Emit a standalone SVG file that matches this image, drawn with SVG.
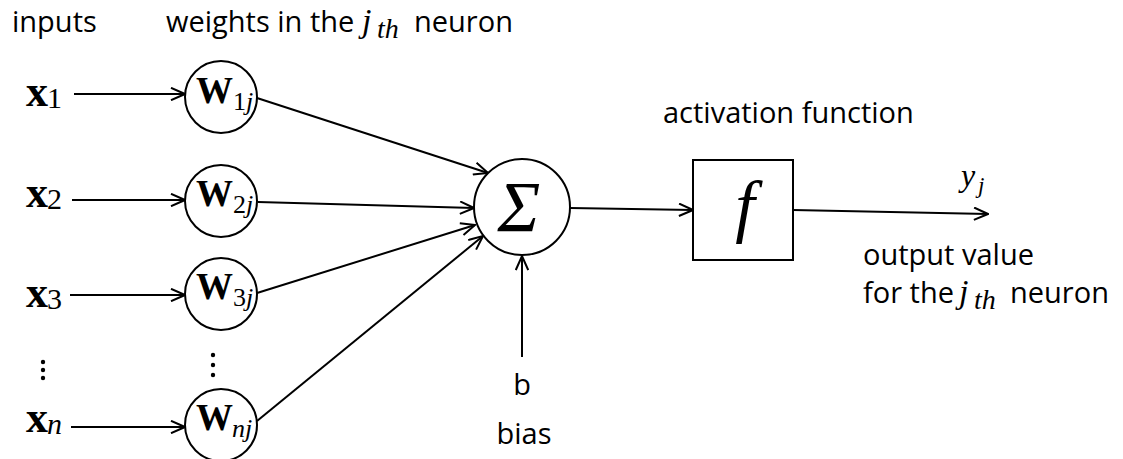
<svg xmlns="http://www.w3.org/2000/svg" width="1123" height="459" viewBox="0 0 1123 459">
  <defs>
    <marker id="arrow" viewBox="0 0 16 14" refX="15" refY="7" markerWidth="16" markerHeight="14" markerUnits="userSpaceOnUse" orient="auto">
      <path d="M1,0.8 L15,7 L1,13.2" fill="none" stroke="#000" stroke-width="2"/>
    </marker>
    <style>
      .txt { font-family: "Open Sans", "Noto Sans", "Liberation Sans", sans-serif; font-size: 29px; fill: #000; }
      .mb { font-family: "Liberation Serif", "DejaVu Serif", serif; font-weight: bold; fill: #000; }
      .mi { font-family: "Liberation Serif", "DejaVu Serif", serif; font-style: italic; fill: #000; }
      .mr { font-family: "Liberation Serif", "DejaVu Serif", serif; fill: #000; }
      .node { fill: #fff; stroke: #000; stroke-width: 2; }
      .edge { fill: none; stroke: #000; stroke-width: 2; marker-end: url(#arrow); }
    </style>
  </defs>
  <rect width="1123" height="459" fill="#fff"/>

  <!-- headings -->
  <text class="txt" x="12" y="32">inputs</text>
  <g id="heading-weights">
    <text class="txt" x="166" y="32">weights in the</text>
    <text class="mi" x="362" y="32" font-size="34">j</text>
    <text class="mi" x="377" y="38" font-size="28">th</text>
    <text class="txt" x="414" y="32">neuron</text>
  </g>

  <!-- connectors -->
  <g id="connectors">
    <line class="edge" x1="74" y1="94" x2="185" y2="94"/>
    <line class="edge" x1="72" y1="200" x2="185" y2="200"/>
    <line class="edge" x1="70" y1="295" x2="185" y2="295"/>
    <line class="edge" x1="71" y1="427" x2="185" y2="427"/>
    <line class="edge" x1="257" y1="98" x2="488" y2="173"/>
    <line class="edge" x1="258" y1="202" x2="474" y2="208"/>
    <line class="edge" x1="257" y1="293" x2="475" y2="225"/>
    <line class="edge" x1="257" y1="421" x2="483" y2="236"/>
    <line class="edge" x1="522" y1="357" x2="522" y2="256"/>
    <line class="edge" x1="570" y1="208" x2="693" y2="210"/>
    <line class="edge" x1="793" y1="210" x2="988" y2="214"/>
  </g>

  <!-- inputs -->
  <g id="input-1">
    <text class="mb" x="26" y="106" font-size="44">x</text>
    <text class="mr" x="47" y="108" font-size="30">1</text>
  </g>
  <g id="input-2">
    <text class="mb" x="26" y="207" font-size="44">x</text>
    <text class="mr" x="47" y="209" font-size="30">2</text>
  </g>
  <g id="input-3">
    <text class="mb" x="26" y="307" font-size="44">x</text>
    <text class="mr" x="47" y="309" font-size="30">3</text>
  </g>
  <g id="input-dots">
    <circle cx="43" cy="362" r="2.2"/>
    <circle cx="43" cy="370" r="2.2"/>
    <circle cx="43" cy="378" r="2.2"/>
  </g>
  <g id="input-n">
    <text class="mb" x="26" y="432" font-size="44">x</text>
    <text class="mi" x="47" y="434" font-size="30">n</text>
  </g>

  <!-- weights -->
  <g id="weight-1">
    <circle class="node" cx="221" cy="97" r="36"/>
    <text class="mb" x="196" y="103" font-size="37">W</text>
    <text class="mr" x="233" y="110" font-size="26">1</text>
    <text class="mi" x="246" y="110" font-size="26">j</text>
  </g>
  <g id="weight-2">
    <circle class="node" cx="221" cy="201" r="36"/>
    <text class="mb" x="196" y="206" font-size="37">W</text>
    <text class="mr" x="233" y="213" font-size="26">2</text>
    <text class="mi" x="246" y="213" font-size="26">j</text>
  </g>
  <g id="weight-3">
    <circle class="node" cx="221" cy="294" r="36"/>
    <text class="mb" x="196" y="299" font-size="37">W</text>
    <text class="mr" x="233" y="306" font-size="26">3</text>
    <text class="mi" x="246" y="306" font-size="26">j</text>
  </g>
  <g id="weight-dots">
    <circle cx="213" cy="355" r="2.2"/>
    <circle cx="213" cy="365" r="2.2"/>
    <circle cx="213" cy="375" r="2.2"/>
  </g>
  <g id="weight-n">
    <circle class="node" cx="221" cy="425" r="36"/>
    <text class="mb" x="196" y="430" font-size="37">W</text>
    <text class="mi" x="232" y="437" font-size="26">n</text>
    <text class="mi" x="245" y="437" font-size="26">j</text>
  </g>

  <!-- summation -->
  <g id="sum">
    <circle class="node" cx="522" cy="207" r="48"/>
    <text class="mi" x="519" y="231" font-size="72" text-anchor="middle">Σ</text>
  </g>

  <!-- bias -->
  <g id="bias">
    <text class="txt" x="522" y="395" text-anchor="middle">b</text>
    <text class="txt" x="524" y="444" text-anchor="middle">bias</text>
  </g>

  <!-- activation -->
  <g id="activation">
    <text class="txt" x="663" y="123">activation function</text>
    <rect class="node" x="693" y="160" width="100" height="100"/>
    <text class="mi" x="745" y="229" font-size="70" text-anchor="middle">f</text>
  </g>

  <!-- output -->
  <g id="output">
    <text class="mi" x="961" y="186" font-size="32">y</text>
    <text class="mi" x="978" y="193" font-size="23">j</text>
    <text class="txt" x="863" y="265">output value</text>
    <text class="txt" x="863" y="303">for the</text>
    <text class="mi" x="959" y="303" font-size="34">j</text>
    <text class="mi" x="974" y="309" font-size="28">th</text>
    <text class="txt" x="1010" y="303">neuron</text>
  </g>
</svg>
